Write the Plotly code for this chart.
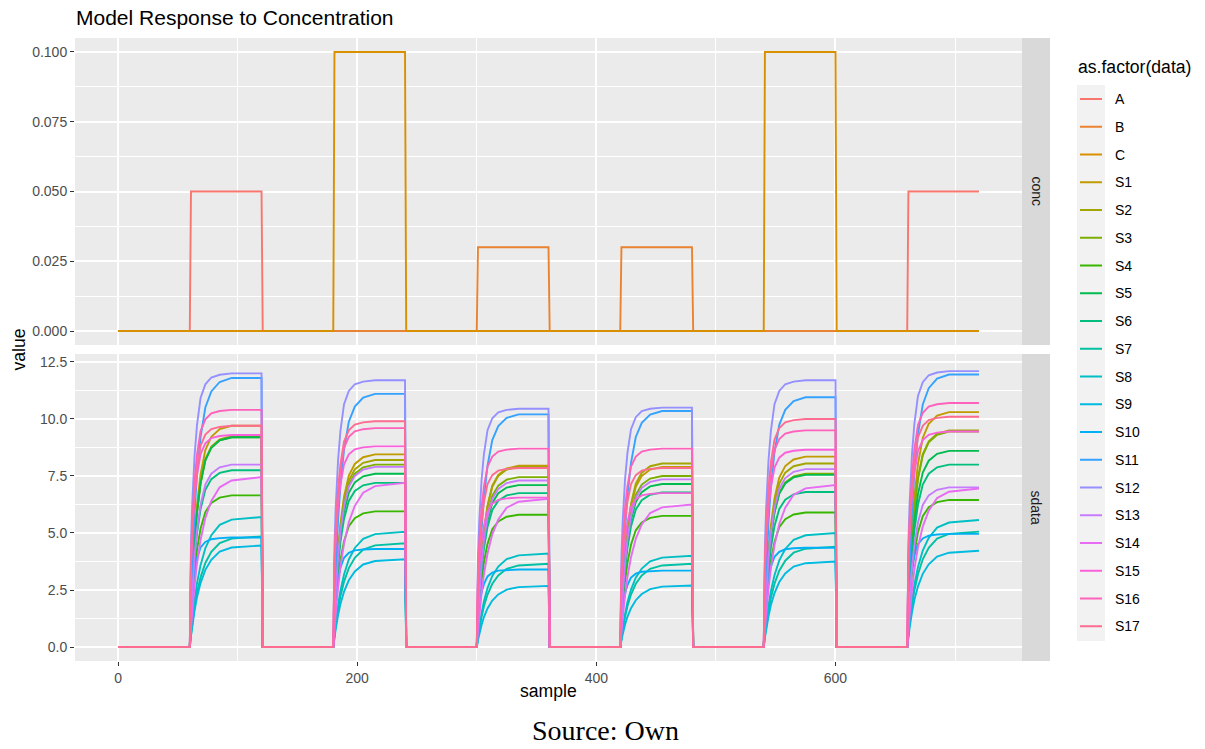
import plotly.graph_objects as go

W, H = 1205, 749

# ---------------- data ----------------
sample_end = 720
pulse_starts = [60, 180, 300, 420, 540, 660]
pulse_length = 60

conc_names = ["A", "B", "C"]
conc_A = [0.05, 0, 0, 0, 0, 0.05]
conc_B = [0, 0, 0.03, 0.03, 0, 0]
conc_C = [0, 0.10, 0, 0, 0.10, 0]
conc_offsets = [0, 1, 60]
conc_fraction = [0, 1, 1]

sensor_names = ["S%d" % i for i in range(1, 18)]
# plateau level reached in each of the six pulses
S1 = [9.7, 8.45, 7.95, 7.9, 8.35, 10.3]
S2 = [9.25, 8.2, 7.9, 8.05, 8.05, 9.5]
S3 = [9.2, 8.0, 7.45, 7.5, 7.6, 9.45]
S4 = [6.65, 5.95, 5.8, 5.75, 5.9, 6.45]
S5 = [9.2, 7.6, 7.1, 7.15, 7.55, 8.6]
S6 = [7.75, 7.2, 6.75, 6.78, 6.8, 8.0]
S7 = [4.85, 4.55, 3.65, 3.65, 4.4, 5.06]
S8 = [5.7, 5.05, 4.1, 4.0, 5.0, 5.57]
S9 = [4.45, 3.85, 2.68, 2.7, 3.75, 4.22]
S10 = [4.8, 4.3, 3.4, 3.35, 4.35, 4.96]
S11 = [11.8, 11.1, 10.2, 10.35, 10.95, 11.95]
S12 = [12.0, 11.7, 10.45, 10.5, 11.7, 12.1]
S13 = [8.0, 7.9, 7.3, 7.35, 7.8, 7.0]
S14 = [7.45, 7.2, 6.5, 6.25, 7.1, 6.95]
S15 = [9.3, 8.8, 6.55, 6.75, 8.65, 9.45]
S16 = [10.4, 9.6, 8.7, 8.7, 9.5, 10.7]
S17 = [9.7, 9.9, 7.85, 7.85, 10.0, 10.1]
sensor_levels = [S1, S2, S3, S4, S5, S6, S7, S8, S9, S10,
                 S11, S12, S13, S14, S15, S16, S17]

# rise shape (fraction of plateau vs. samples after pulse onset)
rise_offsets = [0, 1, 2, 4, 6, 9, 13, 18, 25, 35, 60]
rise_fast = [0, 0.38, 0.52, 0.70, 0.81, 0.91, 0.96, 0.985, 0.995, 1.0, 1.0]
rise_medium = [0, 0.18, 0.30, 0.50, 0.64, 0.78, 0.89, 0.95, 0.985, 1.0, 1.0]
rise_slow = [0, 0.11, 0.20, 0.36, 0.49, 0.63, 0.76, 0.86, 0.94, 0.98, 1.0]
sensor_speed = ["medium", "medium", "medium", "medium", "medium", "medium",
                "slow", "slow", "slow", "fast", "medium", "fast",
                "medium", "slow", "fast", "fast", "fast"]

colors = ["#F8766D", "#EA8331", "#D89000", "#C09B00", "#A3A500", "#7CAE00",
          "#39B600", "#00BB4E", "#00BF7D", "#00C1A3", "#00BFC4", "#00BAE0",
          "#00B0F6", "#35A2FF", "#9590FF", "#C77CFF", "#E76BF3", "#FA62DB",
          "#FF62BC", "#FF6C91"]

x_ticks = [0, 200, 400, 600]
x_minor = [100, 300, 500, 700]
conc_ticks = [0, 0.025, 0.05, 0.075, 0.1]
conc_minor = [0.0125, 0.0375, 0.0625, 0.0875]
sdata_ticks = [0, 2.5, 5.0, 7.5, 10.0, 12.5]
sdata_minor = [1.25, 3.75, 6.25, 8.75, 11.25]


def build(levels, offsets, fractions):
    xs, ys = [0], [0]
    for start, lvl in zip(pulse_starts, levels):
        for off, fr in zip(offsets, fractions):
            xs.append(start + off)
            ys.append(lvl * fr)
        drop = start + pulse_length + 1
        if drop <= sample_end:
            xs.append(drop)
            ys.append(0)
    if xs[-1] < sample_end:
        xs.append(sample_end)
        ys.append(0)
    return xs, ys


profiles = {"fast": rise_fast, "medium": rise_medium, "slow": rise_slow}

fig = go.Figure()
for i, (name, lv) in enumerate(zip(conc_names, [conc_A, conc_B, conc_C])):
    xs, ys = build(lv, conc_offsets, conc_fraction)
    fig.add_trace(go.Scatter(x=xs, y=ys, mode="lines", name=name,
                             line=dict(color=colors[i], width=1.9),
                             xaxis="x", yaxis="y", showlegend=False))
for j, (name, lv) in enumerate(zip(sensor_names, sensor_levels)):
    xs, ys = build(lv, rise_offsets, profiles[sensor_speed[j]])
    fig.add_trace(go.Scatter(x=xs, y=ys, mode="lines", name=name,
                             line=dict(color=colors[3 + j], width=1.9),
                             xaxis="x2", yaxis="y2", showlegend=False))


def px(x):
    return x / W


def py(y):
    return 1 - y / H


FONT = "Liberation Sans, Arial, Helvetica, sans-serif"
panel_l, panel_r = 75, 1022
top_t, top_b = 38, 345
bot_t, bot_b = 354, 661

grid_major = dict(showgrid=True, gridcolor="white", gridwidth=1.7, zeroline=False,
                  showline=False)
tickfont = dict(family=FONT, size=14, color="#4D4D4D")

fig.update_layout(
    width=W, height=H, margin=dict(l=0, r=0, t=0, b=0),
    paper_bgcolor="white", plot_bgcolor="#EBEBEB", showlegend=False,
    xaxis=dict(domain=[px(panel_l), px(panel_r)], anchor="y", range=[-36, 756],
               tickvals=x_ticks, showticklabels=False, ticks="",
               minor=dict(tickvals=x_minor, showgrid=True, gridcolor="white", gridwidth=0.9),
               **grid_major),
    xaxis2=dict(domain=[px(panel_l), px(panel_r)], anchor="y2", range=[-36, 756],
                tickvals=x_ticks, ticktext=[str(v) for v in x_ticks],
                ticks="outside", ticklen=4, tickwidth=1.1, tickcolor="#333333",
                tickfont=tickfont,
                minor=dict(tickvals=x_minor, showgrid=True, gridcolor="white", gridwidth=0.9),
                **grid_major),
    yaxis=dict(domain=[py(top_b), py(top_t)], anchor="x", range=[-0.005, 0.105],
               tickvals=conc_ticks, ticktext=["%.3f" % v for v in conc_ticks],
               ticks="outside", ticklen=4, tickwidth=1.1, tickcolor="#333333",
               tickfont=tickfont,
               minor=dict(tickvals=conc_minor, showgrid=True, gridcolor="white", gridwidth=0.9),
               **grid_major),
    yaxis2=dict(domain=[py(bot_b), py(bot_t)], anchor="x2", range=[-0.614, 12.85],
                tickvals=sdata_ticks, ticktext=["%.1f" % v for v in sdata_ticks],
                ticks="outside", ticklen=4, tickwidth=1.1, tickcolor="#333333",
                tickfont=tickfont,
                minor=dict(tickvals=sdata_minor, showgrid=True, gridcolor="white", gridwidth=0.9),
                **grid_major),
)

shapes = []
annotations = []
# facet strips
for (t, b, label) in [(top_t, top_b, "conc"), (bot_t, bot_b, "sdata")]:
    shapes.append(dict(type="rect", xref="paper", yref="paper",
                       x0=px(panel_r), x1=px(1050), y0=py(b), y1=py(t),
                       fillcolor="#D9D9D9", line=dict(width=0), layer="below"))
    annotations.append(dict(text=label, xref="paper", yref="paper",
                            x=px(1036), y=py((t + b) / 2), showarrow=False,
                            textangle=90, xanchor="center", yanchor="middle",
                            font=dict(family=FONT, size=14, color="#1A1A1A")))

# title, axis titles, caption
annotations.append(dict(text="Model Response to Concentration", xref="paper", yref="paper",
                        x=px(74), y=py(18), xanchor="left", yanchor="middle",
                        showarrow=False, font=dict(family=FONT, size=21, color="black")))
annotations.append(dict(text="value", xref="paper", yref="paper",
                        x=px(18), y=py((top_t + bot_b) / 2), xanchor="center",
                        yanchor="middle", textangle=-90, showarrow=False,
                        font=dict(family=FONT, size=17.6, color="black")))
annotations.append(dict(text="sample", xref="paper", yref="paper",
                        x=px((panel_l + panel_r) / 2), y=py(691), xanchor="center",
                        yanchor="middle", showarrow=False,
                        font=dict(family=FONT, size=17.6, color="black")))
annotations.append(dict(text="Source: Own", xref="paper", yref="paper",
                        x=px(605), y=py(730), xanchor="center", yanchor="middle",
                        showarrow=False,
                        font=dict(family="Liberation Serif, Times New Roman, serif",
                                  size=28, color="black")))

# legend (drawn by hand to match ggplot layout)
all_names = conc_names + sensor_names
annotations.append(dict(text="as.factor(data)", xref="paper", yref="paper",
                        x=px(1076), y=py(67), xanchor="left", yanchor="middle",
                        showarrow=False, font=dict(family=FONT, size=17.6, color="black")))
shapes.append(dict(type="rect", xref="paper", yref="paper",
                   x0=px(1077), x1=px(1105), y0=py(641), y1=py(85),
                   fillcolor="#F2F2F2", line=dict(width=0), layer="below"))
for k, name in enumerate(all_names):
    yk = 99 + 27.75 * k
    shapes.append(dict(type="line", xref="paper", yref="paper",
                       x0=px(1080), x1=px(1102), y0=py(yk), y1=py(yk),
                       line=dict(color=colors[k], width=2)))
    annotations.append(dict(text=name, xref="paper", yref="paper",
                            x=px(1113), y=py(yk), xanchor="left", yanchor="middle",
                            showarrow=False, font=dict(family=FONT, size=14, color="black")))

fig.update_layout(shapes=shapes, annotations=annotations)
fig.write_html("out.html")
